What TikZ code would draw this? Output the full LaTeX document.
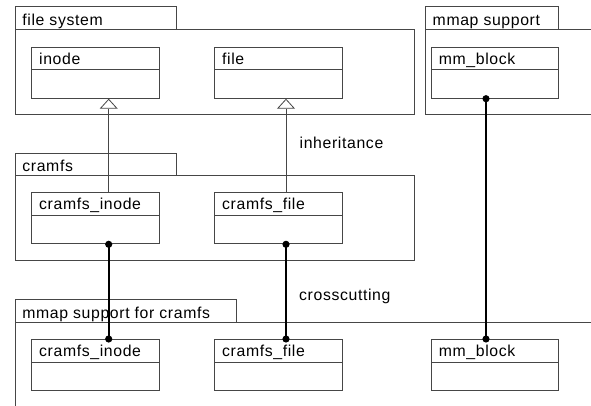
\documentclass[tikz,border=0pt]{standalone}
\usepackage{fontspec}
\setmainfont{Liberation Sans}[LetterSpace=4]
\usetikzlibrary{arrows.meta}
\definecolor{linegray}{RGB}{70,70,70}
\tikzset{
  every node/.style={font=\fontsize{15.8}{18}\selectfont},
  cls/.style={draw=linegray, line width=1pt, minimum width=127.7, minimum height=51,
    inner sep=0, anchor=north west,
    path picture={\draw[linegray, line width=1pt]
      ([yshift=-22.7pt]path picture bounding box.north west) --
      ([yshift=-22.7pt]path picture bounding box.north east);}},
  pkgtab/.style={draw=linegray, line width=1pt, anchor=north west, inner sep=0},
  pkgbody/.style={draw=linegray, line width=1pt, anchor=north west, inner sep=0},
  txt/.style={anchor=base west, inner sep=0, text=black},
  inherit/.style={draw=linegray, line width=0.8pt, -{Triangle[open, width=18pt, length=10pt]}},
  cross/.style={draw=black, line width=2pt, {Circle[length=7pt]}-{Circle[length=7pt]}, shorten <=-3.5pt, shorten >=-3.5pt},
}
\begin{document}
\begin{tikzpicture}[x=1pt, y=-1pt]
\useasboundingbox[fill=white] (0,0) rectangle (591,405);

% package: file system
\node[pkgtab, minimum width=161, minimum height=23] (fstab) at (14.7,6) {};
\node[pkgbody, minimum width=399.3, minimum height=84.5] (fsbody) at (14.7,29) {};
\node[txt] at ([xshift=7.5pt, yshift=-19.5pt]fstab.north west) {file system};

% package: mmap support
\node[pkgtab, minimum width=133, minimum height=23] (mmtab) at (425,6) {};
\node[pkgbody, minimum width=180, minimum height=84.5] (mmbody) at (425,29) {};
\node[txt] at ([xshift=7.5pt, yshift=-19.5pt]mmtab.north west) {mmap support};

% package: cramfs
\node[pkgtab, minimum width=161, minimum height=22] (crtab) at (14.7,153.3) {};
\node[pkgbody, minimum width=399.3, minimum height=84.7] (crbody) at (14.7,175.3) {};
\node[txt] at ([xshift=7.5pt, yshift=-18.5pt]crtab.north west) {cramfs};

% package: mmap support for cramfs
\node[pkgtab, minimum width=221.6, minimum height=22.7] (mctab) at (14.7,299.3) {};
\node[pkgbody, minimum width=600, minimum height=120] (mcbody) at (14.7,322) {};
\node[txt] at ([xshift=7.5pt, yshift=-19pt]mctab.north west) {mmap support for cramfs};

% classes
\node[cls] (inode) at (31,46.7) {};
\node[cls] (file) at (214,46.7) {};
\node[cls] (mmblock) at (430.7,46.7) {};
\node[cls] (crinode) at (31,192.3) {};
\node[cls] (crfile) at (214,192.3) {};
\node[cls] (mcinode) at (31,339) {};
\node[cls] (mcfile) at (214,339) {};
\node[cls] (mcblock) at (430.7,339) {};

\foreach \n/\t in {inode/inode, file/file, mmblock/mm\_block, crinode/cramfs\_inode,
  crfile/cramfs\_file, mcinode/cramfs\_inode, mcfile/cramfs\_file, mcblock/mm\_block}
  \node[txt] at ([xshift=8pt, yshift=-17.5pt]\n.north west) {\t};

% inheritance
\draw[inherit] ([xshift=77.7pt]crinode.north west) -- ([xshift=77.7pt]inode.south west);
\draw[inherit] ([xshift=72pt]crfile.north west) -- ([xshift=72pt]file.south west);

% crosscutting
\draw[cross] ([xshift=77.7pt]crinode.south west) -- ([xshift=77.7pt]mcinode.north west);
\draw[cross] ([xshift=72pt]crfile.south west) -- ([xshift=72pt]mcfile.north west);
\draw[cross] ([xshift=55.3pt]mmblock.south west) -- ([xshift=55.3pt]mcblock.north west);

% labels
\node[txt] (inhlabel) at (299.5,148.3) {inheritance};
\node[txt] (crosslabel) at (299,300) {crosscutting};
\end{tikzpicture}
\end{document}
